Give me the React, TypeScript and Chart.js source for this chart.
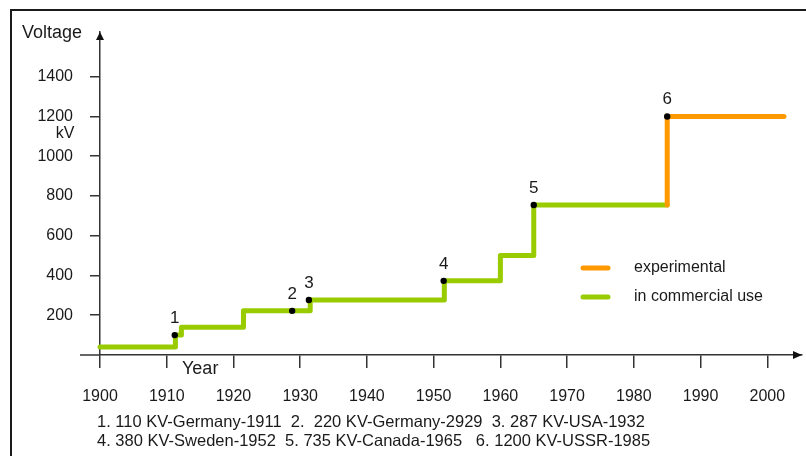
import { useEffect, useRef } from 'react';
import { Chart, registerables } from 'chart.js';

Chart.register(...registerables);

// ---- data ----
const commercialYears = [1900, 1911.3, 1912.2, 1921.5, 1931.5, 1951.6, 1960, 1965, 1985];
const commercialKV = [40, 100, 140, 222, 277, 373, 500, 755, 755];
const experimentalYears = [1985, 1985, 2002.5];
const experimentalKV = [755, 1200, 1200];
const milestoneYears = [1911.2, 1928.8, 1931.3, 1951.5, 1965, 1985];
const milestoneKV = [100, 222, 277, 373, 755, 1200];
const milestoneLabels = ['1', '2', '3', '4', '5', '6'];
const xTicks = [1900, 1910, 1920, 1930, 1940, 1950, 1960, 1970, 1980, 1990, 2000];
const yTicks = [200, 400, 600, 800, 1000, 1200, 1400];
const notes = [
  '1. 110 KV-Germany-1911  2.  220 KV-Germany-2929  3. 287 KV-USA-1932',
  '4. 380 KV-Sweden-1952  5. 735 KV-Canada-1965   6. 1200 KV-USSR-1985',
];

const GREEN = '#99cc00';
const ORANGE = '#ff9900';
const INK = '#1a1a1a';
const AXIS = '#333333';
const FONT = '"Liberation Sans", Arial, sans-serif';

const decor = {
  id: 'decor',
  beforeDraw(chart: any) {
    const ctx = chart.ctx;
    ctx.save();
    ctx.strokeStyle = INK;
    ctx.lineWidth = 2;
    ctx.beginPath();
    ctx.moveTo(11, 456);
    ctx.lineTo(11, 10);
    ctx.lineTo(806, 10);
    ctx.stroke();
    ctx.restore();
  },
  afterDraw(chart: any) {
    const { ctx, chartArea } = chart;
    const xs = chart.scales.x;
    const ys = chart.scales.y;
    const y0 = ys.getPixelForValue(0);
    const x0 = xs.getPixelForValue(1900);
    ctx.save();
    // axis extension + arrows
    ctx.strokeStyle = AXIS;
    ctx.lineWidth = 1.5;
    ctx.beginPath();
    ctx.moveTo(80, y0);
    ctx.lineTo(x0, y0);
    ctx.stroke();
    ctx.fillStyle = '#111';
    ctx.beginPath();
    ctx.moveTo(x0, chartArea.top);
    ctx.lineTo(x0 - 4, chartArea.top + 8);
    ctx.lineTo(x0 + 4, chartArea.top + 8);
    ctx.closePath();
    ctx.fill();
    ctx.beginPath();
    ctx.moveTo(chartArea.right, y0);
    ctx.lineTo(chartArea.right - 9, y0 - 4);
    ctx.lineTo(chartArea.right - 9, y0 + 4);
    ctx.closePath();
    ctx.fill();

    // axis titles
    ctx.fillStyle = INK;
    ctx.textBaseline = 'middle';
    ctx.textAlign = 'center';
    ctx.font = `18px ${FONT}`;
    ctx.fillText('Voltage', 52, 33);
    ctx.font = `16px ${FONT}`;
    ctx.fillText('kV', 65, 134);
    ctx.textAlign = 'left';
    ctx.font = `18px ${FONT}`;
    ctx.fillText('Year', 182, 369);

    // milestone numbers
    ctx.textAlign = 'center';
    ctx.font = `17px ${FONT}`;
    milestoneYears.forEach((yr, i) => {
      const px = xs.getPixelForValue(yr);
      const py = ys.getPixelForValue(milestoneKV[i]);
      ctx.fillText(milestoneLabels[i], px, py - 17);
    });

    // legend
    const items = [
      { label: chart.data.datasets[1].label, color: chart.data.datasets[1].borderColor, y: 268 },
      { label: chart.data.datasets[2].label, color: chart.data.datasets[2].borderColor, y: 297 },
    ];
    ctx.lineCap = 'round';
    ctx.lineWidth = 5;
    ctx.textAlign = 'left';
    ctx.font = `16px ${FONT}`;
    items.forEach((it) => {
      ctx.strokeStyle = it.color;
      ctx.beginPath();
      ctx.moveTo(583, it.y);
      ctx.lineTo(608, it.y);
      ctx.stroke();
      ctx.fillStyle = INK;
      ctx.fillText(it.label, 634, it.y);
    });

    // footnotes
    ctx.font = `16.5px ${FONT}`;
    ctx.fillText(notes[0], 97, 422);
    ctx.fillText(notes[1], 97, 441);
    ctx.restore();
  },
};

export default function App() {
  const ref = useRef<HTMLCanvasElement | null>(null);
  useEffect(() => {
    if (!ref.current) return;
    Chart.defaults.font.family = FONT;
    const chart = new Chart(ref.current, {
      type: 'line',
      data: {
        datasets: [
          {
            label: 'milestones',
            data: milestoneYears.map((x, i) => ({ x, y: milestoneKV[i] })),
            showLine: false,
            pointRadius: 3.2,
            pointBackgroundColor: '#000',
            pointBorderWidth: 0,
            order: 0,
            clip: false,
          },
          {
            label: 'experimental',
            data: experimentalYears.map((x, i) => ({ x, y: experimentalKV[i] })),
            borderColor: ORANGE,
            borderWidth: 5,
            borderCapStyle: 'round',
            borderJoinStyle: 'round',
            pointRadius: 0,
            stepped: 'before',
            order: 1,
            clip: false,
          },
          {
            label: 'in commercial use',
            data: commercialYears.map((x, i) => ({ x, y: commercialKV[i] })),
            borderColor: GREEN,
            borderWidth: 5,
            borderCapStyle: 'round',
            borderJoinStyle: 'round',
            pointRadius: 0,
            stepped: 'before',
            order: 2,
            clip: false,
          },
        ] as any,
      },
      options: {
        responsive: false,
        animation: false,
        layout: { padding: { top: 32, left: 0, right: 0, bottom: 0 } },
        plugins: { legend: { display: false }, tooltip: { enabled: false } },
        scales: {
          x: {
            type: 'linear',
            min: 1900,
            max: 2005.2,
            afterBuildTicks: (s: any) => {
              s.ticks = xTicks.map((v) => ({ value: v }));
            },
            afterFit: (s: any) => {
              s.height = 101;
            },
            grid: { drawOnChartArea: false, drawTicks: true, tickLength: 13, color: AXIS, lineWidth: 1.5 },
            border: { display: true, color: AXIS, width: 1.5 },
            ticks: {
              font: { size: 16 },
              color: INK,
              padding: 19,
              maxRotation: 0,
              autoSkip: false,
              callback: (v: any) => String(v),
            },
          },
          y: {
            type: 'linear',
            min: 0,
            max: 1625,
            afterBuildTicks: (s: any) => {
              s.ticks = yTicks.map((v) => ({ value: v }));
            },
            afterFit: (s: any) => {
              s.width = 100;
            },
            grid: { drawOnChartArea: false, drawTicks: true, tickLength: 10, color: AXIS, lineWidth: 1.5 },
            border: { display: true, color: AXIS, width: 1.5 },
            ticks: { font: { size: 16 }, color: INK, padding: 17, autoSkip: false, callback: (v: any) => String(v) },
          },
        },
      } as any,
      plugins: [decor],
    });
    return () => chart.destroy();
  }, []);
  return (
    <div style={{ position: 'fixed', left: 0, top: 0, width: 806, height: 456, background: '#fff' }}>
      <canvas ref={ref} width={806} height={456} style={{ display: 'block' }} />
    </div>
  );
}
